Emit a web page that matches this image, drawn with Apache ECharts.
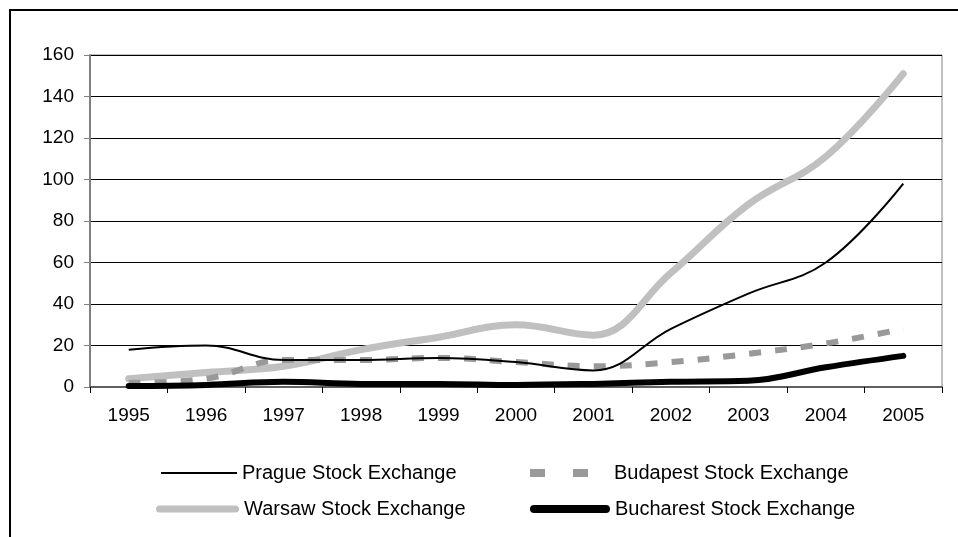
<!DOCTYPE html>
<html>
<head>
<meta charset="utf-8">
<script src="https://cdn.jsdelivr.net/npm/echarts@6/dist/echarts.min.js"></script>
<style>
  html, body { margin: 0; padding: 0; background: #fff; }
  #chart { width: 958px; height: 537px; }
</style>
</head>
<body>
<div id="chart"></div>
<script>
// Market capitalisation by exchange, 1995–2005
const years = ['1995', '1996', '1997', '1998', '1999', '2000', '2001', '2002', '2003', '2004', '2005'];
const prague    = [18, 20, 13, 13, 14, 12, 8, 28, 45, 60, 98];
const budapest  = [2, 4, 13, 13, 14, 12, 10, 12, 16, 21, 28];
const warsaw    = [4, 7, 10, 18, 24, 30, 25, 55, 88, 111, 151];
const bucharest = [0.5, 1, 2.5, 1.5, 1.5, 1, 1.5, 2.5, 3, 9.5, 15];
const yTicks = { min: 0, max: 160, step: 20 };

const font = 'Liberation Sans, Arial, sans-serif';
const chart = echarts.init(document.getElementById('chart'), null, { renderer: 'canvas' });

// One legend block per entry so the two-column layout can be placed freely.
function legendAt(name, icon, left, top, w, h, textPad) {
  return {
    data: [{ name: name, icon: icon }],
    left: left,
    top: top,
    padding: 0,
    itemWidth: w,
    itemHeight: h,
    symbolKeepAspect: false,
    selectedMode: false,
    textStyle: {
      fontFamily: font, fontSize: 20, lineHeight: 20, color: '#000',
      padding: [0, 0, 0, textPad || 0]
    }
  };
}

const pill83 = 'path://M3.5,0H79.5A3.5,3.5,0,0,1,79.5,7H3.5A3.5,3.5,0,0,1,3.5,0Z';
const pill80 = 'path://M4,0H76A4,4,0,0,1,76,8H4A4,4,0,0,1,4,0Z';
const twoDashes = 'path://M0,0H15V8H0ZM43,0H58V8H43Z';

chart.setOption({
  animation: false,
  backgroundColor: '#fff',
  graphic: [{
    type: 'rect',
    shape: { x: 10, y: 10, width: 980, height: 560 },
    style: { fill: 'none', stroke: '#000', lineWidth: 2 },
    silent: true
  }],
  grid: {
    left: 90, right: 16, top: 55, bottom: 150,
    show: true, borderColor: '#808080', borderWidth: 1,
    containLabel: false
  },
  legend: [
    legendAt('Prague Stock Exchange', 'rect', 161, 463, 76, 2),
    legendAt('Budapest Stock Exchange', twoDashes, 530, 463, 58, 8, 21),
    legendAt('Warsaw Stock Exchange', pill83, 156, 499, 83, 7),
    legendAt('Bucharest Stock Exchange', pill80, 530, 499, 80, 8)
  ],
  xAxis: {
    type: 'category',
    data: years,
    boundaryGap: true,
    axisLine: { show: true, lineStyle: { color: '#606060', width: 2 } },
    axisTick: { show: true, length: 6, lineStyle: { color: '#000' } },
    axisLabel: { fontFamily: font, fontSize: 19, color: '#000', margin: 19 },
    splitLine: { show: false }
  },
  yAxis: {
    type: 'value',
    min: yTicks.min, max: yTicks.max, interval: yTicks.step,
    axisLine: { show: true, lineStyle: { color: '#808080', width: 2 } },
    axisTick: { show: true, length: 6, lineStyle: { color: '#808080' } },
    axisLabel: { fontFamily: font, fontSize: 19, color: '#000', margin: 16 },
    splitLine: { show: true, lineStyle: { color: '#000', width: 1 } }
  },
  series: [
    {
      name: 'Prague Stock Exchange', type: 'line', data: prague,
      smooth: 0.4, symbol: 'none', z: 4,
      lineStyle: { color: '#000', width: 2 },
      itemStyle: { color: '#000' }
    },
    {
      name: 'Budapest Stock Exchange', type: 'line', data: budapest,
      smooth: 0.4, symbol: 'none', z: 3,
      lineStyle: { color: '#999999', width: 6, type: [12, 14] },
      itemStyle: { color: '#999999' }
    },
    {
      name: 'Warsaw Stock Exchange', type: 'line', data: warsaw,
      smooth: 0.4, symbol: 'none', z: 2,
      lineStyle: { color: '#c0c0c0', width: 7, cap: 'round' },
      itemStyle: { color: '#c0c0c0' }
    },
    {
      name: 'Bucharest Stock Exchange', type: 'line', data: bucharest,
      smooth: 0.4, symbol: 'none', z: 5,
      lineStyle: { color: '#000', width: 6, cap: 'round' },
      itemStyle: { color: '#000' }
    }
  ]
});
</script>
</body>
</html>
